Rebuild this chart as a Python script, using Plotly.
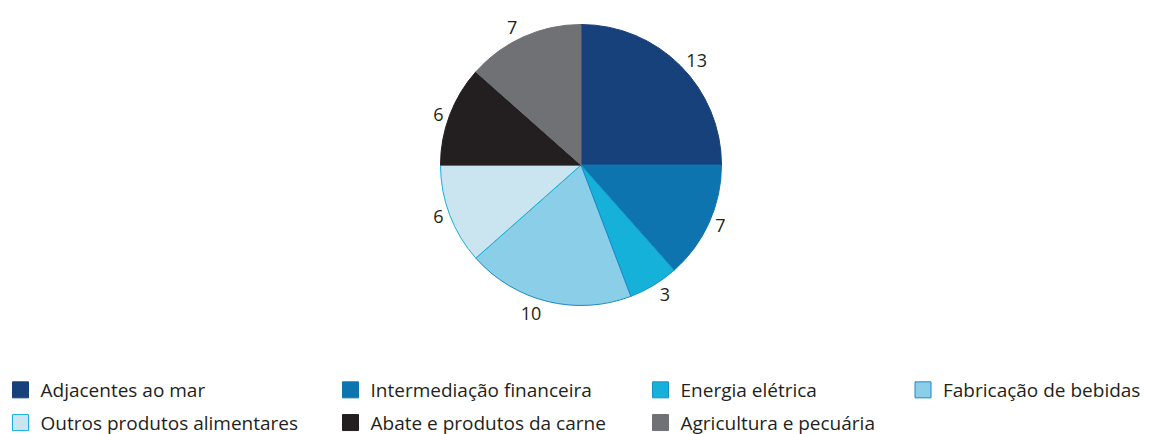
import plotly.graph_objects as go

categories = ["Adjacentes ao mar", "Intermediação financeira", "Energia elétrica",
              "Fabricação de bebidas", "Outros produtos alimentares",
              "Abate e produtos da carne", "Agricultura e pecuária"]
values = [13, 7, 3, 10, 6, 6, 7]
colors = ["#17417A", "#0D74B0", "#15B1D8", "#8ACEE8", "#CAE5F0", "#231F20", "#707174"]
line_colors = ["#17417A", "#0D74B0", "#1590C8", "#1E88C8", "#15B1D8", "#231F20", "#707174"]
legend_columns = ["legend", "legend2", "legend3", "legend4", "legend", "legend2", "legend3"]

W, H = 1150, 434
# page body adds an 8px offset; positions below are in figure coordinates
cx, cy, r = 573, 157, 140.5

fig = go.Figure()
fig.add_trace(go.Pie(
    labels=categories, values=values, sort=False, direction="clockwise", rotation=0,
    marker=dict(colors=colors, line=dict(color=line_colors, width=1)),
    textinfo="value", textposition="outside",
    textfont=dict(family="Open Sans", size=18, color="#231F20"),
    showlegend=False,
    domain=dict(x=[(cx - r) / W, (cx + r) / W], y=[1 - (cy + r) / H, 1 - (cy - r) / H]),
    hoverinfo="label+value",
))

for cat, col, lc, lg in zip(categories, colors, line_colors, legend_columns):
    fig.add_trace(go.Scatter(
        x=[None], y=[None], mode="markers", name=cat, legend=lg, legendgroup=cat,
        marker=dict(symbol="square", size=16, color=col, line=dict(color=lc, width=1)),
    ))

col_x = [-7.5, 322.5, 632.5, 895]
leg_y = 1 - 363 / H
common = dict(yanchor="top", xanchor="left", y=leg_y, bgcolor="rgba(0,0,0,0)",
              font=dict(family="Open Sans", size=19, color="#231F20"),
              tracegroupgap=5, itemclick=False, itemdoubleclick=False)
fig.update_layout(
    width=W, height=H, margin=dict(l=0, r=0, t=0, b=0, autoexpand=False),
    paper_bgcolor="white", plot_bgcolor="white",
    xaxis=dict(visible=False), yaxis=dict(visible=False),
    legend=dict(x=col_x[0] / W, **common),
    legend2=dict(x=col_x[1] / W, **common),
    legend3=dict(x=col_x[2] / W, **common),
    legend4=dict(x=col_x[3] / W, **common),
)
fig.write_html("out.html")
